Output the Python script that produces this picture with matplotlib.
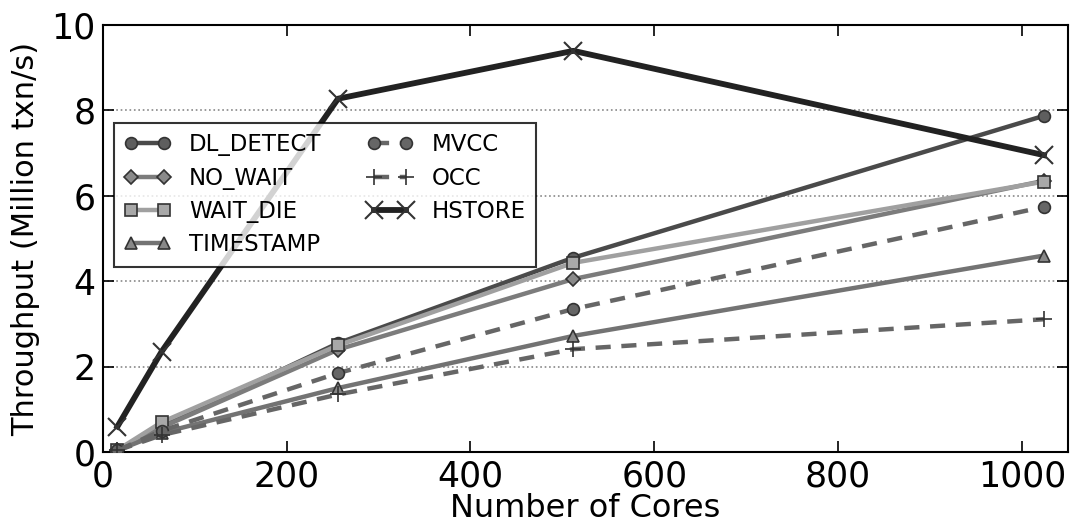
import matplotlib
matplotlib.use("Agg")
import matplotlib.pyplot as plt

plt.rcParams['font.family'] = ['DejaVu Sans']

cores = [16, 64, 256, 512, 1024]

dl_detect = [0.05, 0.60, 2.55, 4.55, 7.87]
no_wait = [0.05, 0.58, 2.40, 4.05, 6.35]
wait_die = [0.05, 0.70, 2.50, 4.43, 6.33]
timestamp = [0.04, 0.45, 1.50, 2.72, 4.60]
mvcc = [0.04, 0.50, 1.85, 3.35, 5.74]
occ = [0.04, 0.40, 1.35, 2.41, 3.11]
hstore = [0.60, 2.35, 8.27, 9.39, 6.95]

series = [
    ("DL_DETECT", dl_detect, dict(color="#4a4a4a", ls="-", marker="o", mfc="#5e5e5e")),
    ("NO_WAIT", no_wait, dict(color="#7c7c7c", ls="-", marker="D", mfc="#8a8a8a", ms=7.5)),
    ("WAIT_DIE", wait_die, dict(color="#a0a0a0", ls="-", marker="s", mfc="#a8a8a8")),
    ("TIMESTAMP", timestamp, dict(color="#737373", ls="-", marker="^", mfc="#888888")),
    ("MVCC", mvcc, dict(color="#666666", ls="--", marker="o", mfc="#666666", dashes=(3.4, 2.4))),
    ("OCC", occ, dict(color="#666666", ls="--", marker="+", mfc="#666666", ms=11, mew=1.2, dashes=(3.4, 2.4))),
    ("HSTORE", hstore, dict(color="#222222", ls="-", marker="x", ms=13, mew=1.5, lw=4.2)),
]

fig = plt.figure(figsize=(10.70, 5.27), dpi=100)
ax = fig.add_axes([0.096, 0.142, 0.902, 0.811])

for name, vals, style in series:
    kw = dict(lw=3.2, ms=8.5, mec="#333333", mew=1.2)
    kw.update(style)
    ax.plot(cores, vals, label=name, zorder=3, **kw)

ax.set_xlim(0, 1050)
ax.set_ylim(0, 10)
ax.set_xticks([0, 200, 400, 600, 800, 1000])
ax.set_yticks([0, 2, 4, 6, 8, 10])
ax.yaxis.grid(True, ls=":", color="#888888", lw=1.2)
ax.set_axisbelow(True)

ax.tick_params(direction="in", length=8, width=1.2, top=True, right=True,
               labelsize=25, pad=5)
for s in ax.spines.values():
    s.set_linewidth(1.5)

ax.set_xlabel("Number of Cores", fontsize=23, labelpad=0)
ax.set_ylabel("Throughput (Million txn/s)", fontsize=22, labelpad=8)

leg = ax.legend(loc="upper left", bbox_to_anchor=(0.012, 0.770), ncol=2,
                numpoints=2, fontsize=16.5, frameon=True, fancybox=False,
                edgecolor="black", handlelength=2.0, columnspacing=2.0,
                borderpad=0.45, labelspacing=0.45, handletextpad=0.8,
                borderaxespad=0)
leg.get_frame().set_linewidth(1.5)

fig.savefig("out.png", dpi=100)
